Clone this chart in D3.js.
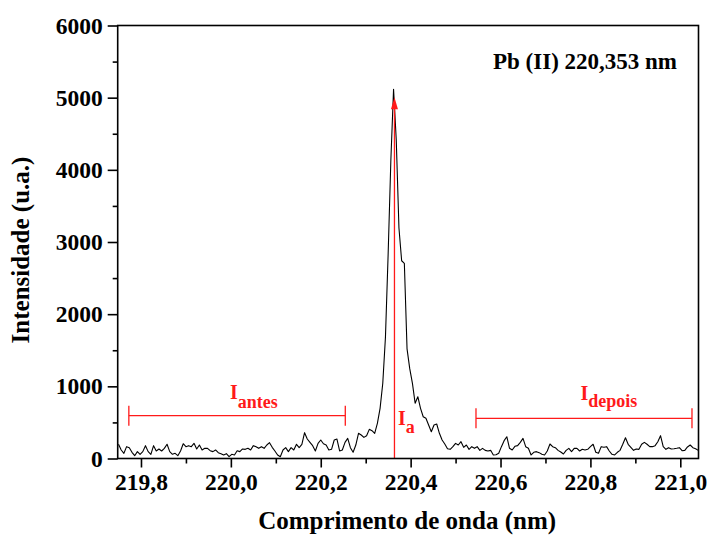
<!DOCTYPE html>
<html>
<head>
<meta charset="utf-8">
<script src="https://cdn.jsdelivr.net/npm/d3@7/dist/d3.min.js"></script>
<style>
  html, body { margin: 0; padding: 0; background: #fff; }
  svg { display: block; }
  text { font-family: "Liberation Serif", "Times New Roman", serif; font-weight: bold; }
</style>
</head>
<body>
<svg id="chart" width="710" height="535"></svg>
<script>
// ---- data ----
const wavelengthStart = 219.75;
const wavelengthStep = 0.006;
const intensity = [
  197,118,72,164,150,86,39,95,58,95,178,95,58,178,104,132,104,141,197,95,58,72,39,104,205,164,178,164,210,132,187,118,141,141,108,95,118,81,67,49,67,25,58,
  49,108,95,132,127,141,118,178,164,141,164,141,187,219,155,104,49,25,118,150,95,150,118,197,150,197,358,270,224,178,104,210,256,205,187,118,127,256,270,104,118,224,279,150,86,
  187,349,326,293,316,404,386,349,488,695,1042,1688,2843,4136,5116,4413,3193,2740,2705,1520,1245,1042,765,856,695,579,557,464,371,464,478,349,256,201,136,127,164,210,187,233,155,187,127,
  164,141,164,113,141,113,104,113,49,53,72,164,247,302,141,118,169,178,224,279,164,141,49,86,95,81,58,49,104,201,164,150,113,90,62,113,141,95,141,141,104,127,118,127,164,
  197,86,72,164,155,164,104,58,49,86,113,197,288,197,155,113,132,127,197,224,197,164,164,178,233,316,164,127,150,132,136,141,150,108,113,160,187,150,136,113
];
const wavelength = intensity.map((_, i) => +(wavelengthStart + i * wavelengthStep).toFixed(3));

const xDomain = [219.7482, 221.0405];
const yDomain = [0, 6000];
const xTicks = [219.8, 220.0, 220.2, 220.4, 220.6, 220.8, 221.0];
const xTickLabels = ["219,8", "220,0", "220,2", "220,4", "220,6", "220,8", "221,0"];
const xMinorTicks = [219.9, 220.1, 220.3, 220.5, 220.7, 220.9];
const yTicks = [0, 1000, 2000, 3000, 4000, 5000, 6000];
const yTickLabels = ["0", "1000", "2000", "3000", "4000", "5000", "6000"];
const yMinorTicks = [500, 1500, 2500, 3500, 4500, 5500];

const xTitle = "Comprimento de onda (nm)";
const yTitle = "Intensidade (u.a.)";
const lineLabel = "Pb (II) 220,353 nm";

// annotations (data units)
const antesRange = [219.773, 220.2546];
const antesLevel = 593;
const depoisRange = [220.5454, 221.026];
const depoisLevel = 557;
const arrowX = 220.364;
const arrowTop = 5005;
const labelAntes = { x: 219.998, y: 820, main: "I", sub: "antes" };
const labelDepois = { x: 220.778, y: 811, main: "I", sub: "depois" };
const labelA = { x: 220.372, y: 464, main: "I", sub: "a" };

// ---- layout ----
const L = 117.7, R = 698.5, T = 25.5, B = 458.5;
const svg = d3.select("#chart");
const x = d3.scaleLinear().domain(xDomain).range([L, R]);
const y = d3.scaleLinear().domain(yDomain).range([B, T]);

svg.append("defs").append("clipPath").attr("id", "clip")
  .append("rect").attr("x", L).attr("y", T).attr("width", R - L).attr("height", B - T);

// spectrum line
const line = d3.line().x((d, i) => x(wavelength[i])).y(d => y(d));
svg.append("path")
  .datum(intensity)
  .attr("clip-path", "url(#clip)")
  .attr("fill", "none")
  .attr("stroke", "#000")
  .attr("stroke-width", 1.1)
  .attr("stroke-linejoin", "round")
  .attr("d", line);

// red annotations
const red = "#ff1a1a";
const ann = svg.append("g").attr("stroke", red).attr("stroke-width", 1.3).attr("fill", "none");
function bracket(range, level) {
  ann.append("line").attr("x1", x(range[0])).attr("x2", x(range[1])).attr("y1", y(level)).attr("y2", y(level));
  range.forEach(v => {
    ann.append("line").attr("x1", x(v)).attr("x2", x(v)).attr("y1", y(level) - 10).attr("y2", y(level) + 10);
  });
}
bracket(antesRange, antesLevel);
bracket(depoisRange, depoisLevel);
ann.append("line").attr("x1", x(arrowX)).attr("x2", x(arrowX)).attr("y1", y(0)).attr("y2", y(arrowTop) + 8);
svg.append("path")
  .attr("fill", red)
  .attr("d", `M${x(arrowX)},${y(arrowTop)} L${x(arrowX) - 3.5},${y(arrowTop) + 12} L${x(arrowX) + 3.5},${y(arrowTop) + 12} Z`);

function subLabel(l, dy) {
  const t = svg.append("text").attr("x", x(l.x)).attr("y", y(l.y)).attr("fill", red).attr("font-size", 20);
  t.append("tspan").text(l.main);
  t.append("tspan").attr("font-size", 18).attr("dy", dy).text(l.sub);
}
subLabel(labelAntes, 9);
subLabel(labelDepois, 7.5);
subLabel(labelA, 7.5);

// axes
const axisW = 1.6;
const xAxis = d3.axisBottom(x).tickValues(xTicks).tickSize(9).tickPadding(6)
  .tickFormat((d, i) => xTickLabels[i]);
const gx = svg.append("g").attr("transform", `translate(0,${B})`).call(xAxis);
const xMinor = d3.axisBottom(x).tickValues(xMinorTicks).tickSize(5).tickFormat("");
const gxm = svg.append("g").attr("transform", `translate(0,${B})`).call(xMinor);

const yAxis = d3.axisLeft(y).tickValues(yTicks).tickSize(10).tickPadding(5)
  .tickFormat((d, i) => yTickLabels[i]);
const gy = svg.append("g").attr("transform", `translate(${L},0)`).call(yAxis);
const yMinor = d3.axisLeft(y).tickValues(yMinorTicks).tickSize(5).tickFormat("");
const gym = svg.append("g").attr("transform", `translate(${L},0)`).call(yMinor);

[gx, gxm, gy, gym].forEach(g => {
  g.select(".domain").remove();
  g.selectAll(".tick line").attr("stroke", "#000").attr("stroke-width", axisW);
  g.selectAll(".tick text").attr("fill", "#000").attr("font-size", 23.5)
    .attr("font-family", "Liberation Serif, Times New Roman, serif").attr("font-weight", "bold");
});

// frame
svg.append("rect").attr("x", L).attr("y", T).attr("width", R - L).attr("height", B - T)
  .attr("fill", "none").attr("stroke", "#000").attr("stroke-width", axisW);

// titles
svg.append("text").attr("x", (L + R) / 2 - 1).attr("y", 529).attr("text-anchor", "middle")
  .attr("font-size", 25).attr("fill", "#000").text(xTitle);
svg.append("text").attr("transform", `translate(29,250) rotate(-90)`).attr("text-anchor", "middle")
  .attr("font-size", 25).attr("fill", "#000").text(yTitle);
svg.append("text").attr("x", 493).attr("y", 69).attr("font-size", 23).attr("fill", "#000").text(lineLabel);
</script>
</body>
</html>
